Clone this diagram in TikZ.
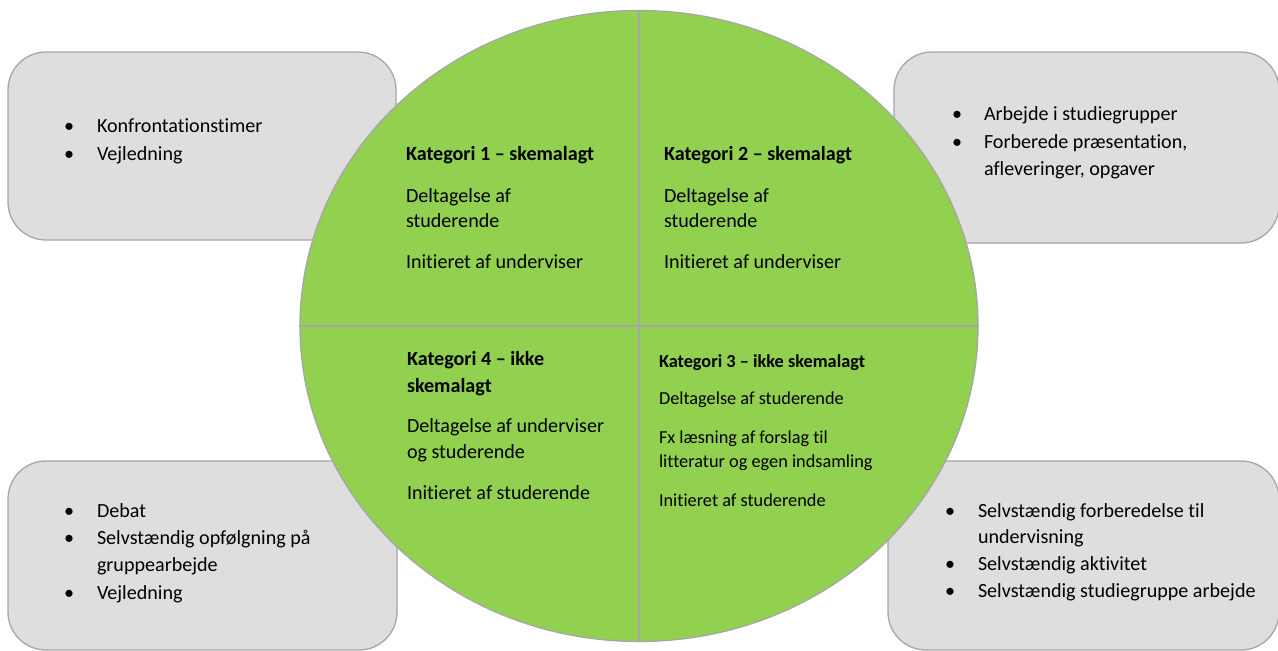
\documentclass[tikz,border=0pt]{standalone}
\usepackage{fontspec}
\setmainfont{Carlito}[Ligatures=NoCommon]
\usetikzlibrary{shapes.geometric}
\definecolor{boxfill}{HTML}{DEDEDE}
\definecolor{boxline}{HTML}{A6A6A6}
\definecolor{piefill}{HTML}{92D050}
\begin{document}
\begin{tikzpicture}[x=1pt,y=-1pt,
  box/.style={draw=boxline,fill=boxfill,line width=1.3pt,rounded corners=38pt,inner sep=0pt,outer sep=0pt},
  divider/.style={draw=boxline,line width=1.5pt},
  txt/.style={anchor=base west,inner sep=0pt,outer sep=0pt,font=\fontsize{20.1}{24}\selectfont},
  small/.style={txt,font=\fontsize{18.3}{22}\selectfont},
  head/.style={txt,font=\fontsize{20.1}{24}\selectfont\bfseries},
  headsmall/.style={txt,font=\fontsize{18.3}{22}\selectfont\bfseries},
  bul/.style={txt}]
\useasboundingbox (0,0) rectangle (1278,651);
% boxes
\node[box,minimum width=388pt,minimum height=188pt] (tl) at (202,146) {};
\node[box,minimum width=385pt,minimum height=191pt] (tr) at (1086.5,147.5) {};
\node[box,minimum width=389pt,minimum height=189pt] (bl) at (202.5,555.5) {};
\node[box,minimum width=391pt,minimum height=189pt] (br) at (1083.5,555.5) {};
% circle
\node[draw=boxline,fill=piefill,line width=1.3pt,ellipse,minimum width=678pt,minimum height=631pt,inner sep=0pt] (c) at (639,326) {};
\draw[divider] (c.north) -- (c.south);
\draw[divider] (c.west) -- (c.east);
% top-left box
\node[bul] (tlb1) at (64,132) {•};
\node[txt] (tlt1) at (97,132) {Konfrontationstimer};
\node[bul] (tlb2) at (64,160) {•};
\node[txt] (tlt2) at (97,160) {Vejledning};
% top-right box
\node[bul] (trb1) at (952,120) {•};
\node[txt] (trt1) at (984,120) {Arbejde i studiegrupper};
\node[bul] (trb2) at (952,148) {•};
\node[txt] (trt2) at (984,148) {Forberede præsentation,};
\node[txt] (trt3) at (984,175) {afleveringer, opgaver};
% bottom-left box
\node[bul] (blb1) at (64,517) {•};
\node[txt] (blt1) at (97,517) {Debat};
\node[bul] (blb2) at (64,544) {•};
\node[txt] (blt2) at (97,544) {Selvstændig opfølgning på};
\node[txt] (blt3) at (97,571) {gruppearbejde};
\node[bul] (blb3) at (64,599) {•};
\node[txt] (blt4) at (97,599) {Vejledning};
% bottom-right box
\node[bul] (brb1) at (945,517) {•};
\node[txt] (brt1) at (978,517) {Selvstændig forberedelse til};
\node[txt] (brt2) at (978,543) {undervisning};
\node[bul] (brb2) at (945,570) {•};
\node[txt] (brt3) at (978,570) {Selvstændig aktivitet};
\node[bul] (brb3) at (945,597) {•};
\node[txt] (brt4) at (978,597) {Selvstændig studiegruppe arbejde};
% quadrant 1
\node[head] (q1h) at (406,160) {Kategori 1 – skemalagt};
\node[txt] (q1a) at (406,202) {Deltagelse af};
\node[txt] (q1b) at (406,227) {studerende};
\node[txt] (q1c) at (406,268) {Initieret af underviser};
% quadrant 2
\node[head] (q2h) at (664,160) {Kategori 2 – skemalagt};
\node[txt] (q2a) at (664,202) {Deltagelse af};
\node[txt] (q2b) at (664,227) {studerende};
\node[txt] (q2c) at (664,268) {Initieret af underviser};
% quadrant 4
\node[head] (q4h) at (407,365) {Kategori 4 – ikke};
\node[head] (q4i) at (407,392) {skemalagt};
\node[txt] (q4a) at (407,432) {Deltagelse af underviser};
\node[txt] (q4b) at (407,458) {og studerende};
\node[txt] (q4c) at (407,499) {Initieret af studerende};
% quadrant 3
\node[headsmall] (q3h) at (659,367) {Kategori 3 – ikke skemalagt};
\node[small] (q3a) at (659,404) {Deltagelse af studerende};
\node[small] (q3b) at (659,443) {Fx læsning af forslag til};
\node[small] (q3c) at (659,467) {litteratur og egen indsamling};
\node[small] (q3d) at (659,506) {Initieret af studerende};
\end{tikzpicture}
\end{document}
